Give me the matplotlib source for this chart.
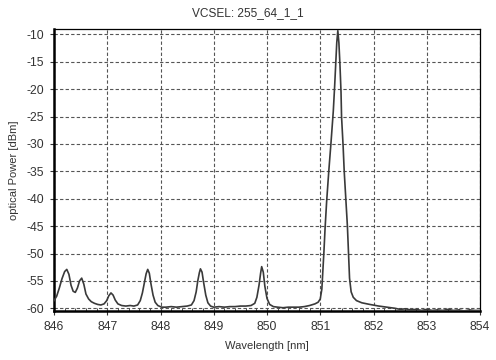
import numpy as np
import matplotlib
matplotlib.use("Agg")
import matplotlib.pyplot as plt
import matplotlib.ticker as ticker

# =============================================================================
# DATA
# =============================================================================
wavelength = [
    846.00, 846.05, 846.10, 846.15, 846.20, 846.24, 846.28, 846.32, 846.36, 846.40,
    846.44, 846.48, 846.52, 846.56, 846.60, 846.65, 846.70, 846.76, 846.82, 846.88,
    846.94, 846.99, 847.03, 847.07, 847.11, 847.15, 847.20, 847.27, 847.35, 847.43,
    847.50, 847.57, 847.62, 847.66, 847.70, 847.73, 847.76, 847.79, 847.82, 847.86,
    847.90, 847.95, 848.02, 848.10, 848.20, 848.30, 848.40, 848.50, 848.58, 848.63,
    848.67, 848.70, 848.73, 848.75, 848.78, 848.81, 848.85, 848.89, 848.94, 849.00,
    849.10, 849.20, 849.30, 849.40, 849.50, 849.60, 849.70, 849.77, 849.81, 849.85,
    849.88, 849.90, 849.93, 849.96, 850.00, 850.05, 850.12, 850.20, 850.30, 850.40,
    850.50, 850.60, 850.70, 850.80, 850.90, 850.96, 851.00, 851.03, 851.05, 851.07,
    851.09, 851.12, 851.16, 851.20, 851.245, 851.27, 851.29, 851.31, 851.33, 851.35,
    851.37, 851.39, 851.40, 851.43, 851.45, 851.48, 851.51, 851.53, 851.55, 851.58,
    851.62, 851.68, 851.78, 851.93, 852.10, 852.25, 852.40, 852.50, 852.60, 852.70,
    852.80, 852.90, 853.00, 853.10, 853.20, 853.30, 853.40, 853.50, 853.60, 853.70,
    853.80, 853.90, 854.00,
]
power_dbm = [
    -58.6, -57.8, -56.3, -54.6, -53.3, -52.9, -53.8, -55.8, -56.9, -57.1,
    -56.3, -55.0, -54.5, -55.6, -57.4, -58.3, -58.8, -59.1, -59.3, -59.4,
    -59.2, -58.6, -57.7, -57.2, -57.6, -58.5, -59.2, -59.5, -59.6, -59.5,
    -59.6, -59.4, -58.6, -57.2, -55.2, -53.7, -52.9, -53.6, -55.5, -57.6,
    -58.9, -59.5, -59.8, -59.8, -59.7, -59.8, -59.7, -59.6, -59.4, -58.6,
    -57.0, -55.0, -53.5, -52.8, -53.4, -55.3, -57.6, -59.0, -59.6, -59.8,
    -59.7, -59.8, -59.7, -59.7, -59.6, -59.6, -59.5, -59.1, -58.0, -55.8,
    -53.6, -52.4, -53.4, -56.0, -58.2, -59.3, -59.7, -59.8, -59.9, -59.8,
    -59.8, -59.8, -59.7, -59.5, -59.2, -58.9, -58.3, -56.5, -53.0, -49.5,
    -45.5, -40.5, -35.0, -30.0, -24.0, -19.5, -15.5, -11.5, -9.3, -11.5,
    -15.5, -20.5, -25.0, -30.5, -35.0, -40.0, -45.0, -50.0, -54.5, -57.0,
    -58.0, -58.6, -59.0, -59.3, -59.6, -59.8, -60.0, -60.2, -60.1, -60.3,
    -60.2, -60.4, -60.2, -60.4, -60.3, -60.4, -60.2, -60.4, -60.3, -60.5,
    -60.3, -60.4, -60.4,
]

title = "VCSEL: 255_64_1_1"
xticks = [846, 847, 848, 849, 850, 851, 852, 853, 854]
yticks = [-10, -15, -20, -25, -30, -35, -40, -45, -50, -55, -60]

# =============================================================================
# FIGURE
# =============================================================================
plt.rcParams.update({
    "font.family": ["Liberation Sans", "DejaVu Sans"],
    "font.size": 8,
    "axes.unicode_minus": False,
    "text.color": "#333333",
    "axes.labelcolor": "#333333",
    "xtick.color": "#333333",
    "ytick.color": "#333333",
})

fig = plt.figure(figsize=(4.96, 3.6), dpi=100)
ax = fig.add_axes([54 / 496, 1 - 311 / 360, 426 / 496, 282 / 360])

ax.plot(wavelength, power_dbm, color="#3a3a3a", linewidth=1.2, zorder=3)

ax.set_xlim(846, 854)
ax.set_ylim(-60.5, -9)
ax.set_xticks(xticks)
ax.set_yticks(yticks)
ax.xaxis.set_minor_locator(ticker.MultipleLocator(0.2))
ax.tick_params(axis="both", which="major", length=3, width=0.8, pad=4,
               labelsize=8.7)
ax.tick_params(axis="x", which="minor", direction="in", length=2.5, width=0.6)

ax.grid(True, which="major", color="#555555", linestyle=(0, (3, 2)),
        linewidth=0.8)

for side in ["left", "bottom"]:
    ax.spines[side].set_linewidth(1.8)
for side in ["top", "right"]:
    ax.spines[side].set_linewidth(0.9)

ax.set_xlabel("Wavelength [nm]", labelpad=6, fontsize=8)
ax.set_ylabel("optical Power [dBm]", fontsize=8)
ax.yaxis.set_label_coords(-35 / 426, 0.5)
fig.text(0.5, 0.964, title, ha="center", va="center", fontsize=8.6,
         color="#333333")

plt.savefig("out.png", dpi=100)
plt.close()
